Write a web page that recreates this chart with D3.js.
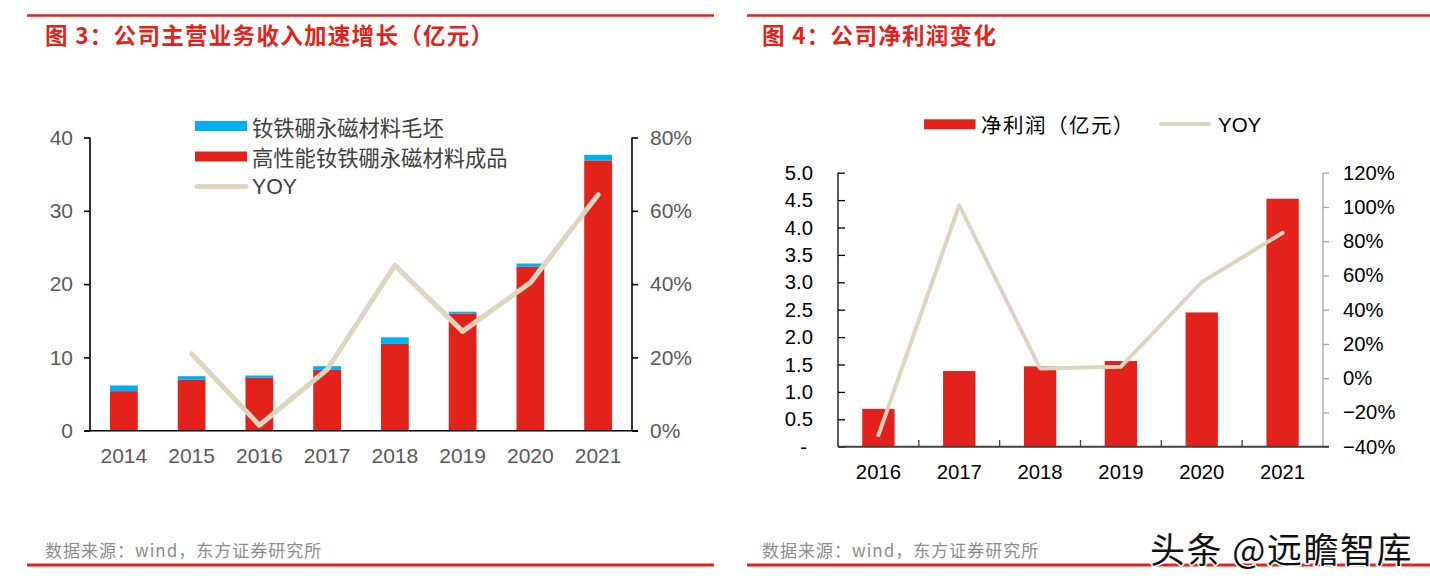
<!DOCTYPE html>
<html><head><meta charset="utf-8">
<script src="https://cdn.jsdelivr.net/npm/d3@7"></script>
<style>
html,body{margin:0;padding:0;background:#fff;}
svg{display:block;}
</style></head>
<body>
<svg id="c" width="1430" height="583"></svg>
<script>
// ---------- data: chart 1 ----------
const years1 = ["2014","2015","2016","2017","2018","2019","2020","2021"];
const finished1 = [5.40, 6.94, 7.21, 8.30, 11.84, 16.00, 22.36, 36.87];   // 高性能钕铁硼永磁材料成品
const blank1    = [0.77, 0.50, 0.32, 0.50, 0.90, 0.24, 0.45, 0.77];      // 钕铁硼永磁材料毛坯
const yoy1      = [null, 0.210, 0.015, 0.167, 0.451, 0.271, 0.404, 0.644];
const yTicks1L  = [0, 10, 20, 30, 40];
const yTicks1R  = [0, 0.2, 0.4, 0.6, 0.8];
const legend1   = ["钕铁硼永磁材料毛坯", "高性能钕铁硼永磁材料成品", "YOY"];
const title1    = "图 3：公司主营业务收入加速增长（亿元）";

// ---------- data: chart 2 ----------
const years2  = ["2016","2017","2018","2019","2020","2021"];
const profit2 = [0.69, 1.38, 1.466, 1.563, 2.45, 4.525];
const yoy2    = [-0.332, 1.01, 0.057, 0.067, 0.561, 0.849];
const yTicks2L = [0, 0.5, 1.0, 1.5, 2.0, 2.5, 3.0, 3.5, 4.0, 4.5, 5.0];
const yTicks2R = [-0.4, -0.2, 0, 0.2, 0.4, 0.6, 0.8, 1.0, 1.2];
const legend2  = ["净利润（亿元）", "YOY"];
const title2   = "图 4：公司净利润变化";

const source = "数据来源：wind，东方证券研究所";
const watermark = "头条 @远瞻智库";

// ---------- styles ----------
const RED = "#e3231b", BLUE = "#00b0f0", BEIGE = "#ddd5c0";
const LAT = "'Liberation Sans', Arial, 'Noto Sans CJK SC', sans-serif";
const CJK = "'Noto Sans CJK SC', 'Liberation Sans', sans-serif";

const svg = d3.select("#c");

// frame lines + titles + footers
function frame(x0, x1, title, tx, sx) {
  svg.append("line").attr("x1", x0).attr("x2", x1).attr("y1", 15.5).attr("y2", 15.5)
     .attr("stroke", RED).attr("stroke-width", 2.5);
  svg.append("text").attr("x", tx).attr("y", 34).attr("dominant-baseline", "central")
     .attr("font-family", CJK).attr("font-weight", "bold").attr("font-size", 22.5)
     .attr("letter-spacing", 1.3).attr("fill", RED).text(title);
  svg.append("line").attr("x1", x0).attr("x2", x1).attr("y1", 565).attr("y2", 565)
     .attr("stroke", RED).attr("stroke-width", 3);
  svg.append("text").attr("x", sx).attr("y", 549).attr("dominant-baseline", "central")
     .attr("font-family", CJK).attr("font-size", 17).attr("letter-spacing", 1)
     .attr("fill", "#8c8c8c").text(source);
}
frame(27, 714, title1, 45, 45);
frame(747, 1430, title2, 762, 762);

// ======================= chart 1 =======================
{
  const g = svg.append("g");
  const x = d3.scaleBand().domain(years1).range([90, 632]).paddingInner(0.59).paddingOuter(0.295);
  const y = d3.scaleLinear().domain([0, 40]).range([430.7, 137.5]);
  const y2 = d3.scaleLinear().domain([0, 0.8]).range([430.7, 137.5]);

  const stackData = years1.map((yr, i) => ({year: yr, finished: finished1[i], blank: blank1[i]}));
  const series = d3.stack().keys(["finished", "blank"])(stackData);
  const colors = {finished: RED, blank: BLUE};
  series.forEach(s => {
    g.append("g").selectAll("rect").data(s).join("rect")
      .attr("x", d => x(d.data.year)).attr("width", x.bandwidth())
      .attr("y", d => y(d[1])).attr("height", d => y(d[0]) - y(d[1]))
      .attr("fill", colors[s.key]);
  });

  // axes
  const axL = g.append("g").attr("transform", "translate(90,0)")
    .call(d3.axisLeft(y).tickValues(yTicks1L).tickSize(6).tickPadding(11).tickFormat(d3.format("d")));
  const axR = g.append("g").attr("transform", "translate(632,0)")
    .call(d3.axisRight(y2).tickValues(yTicks1R).tickSize(6).tickPadding(12).tickFormat(d3.format(".0%")));
  const axB = g.append("g").attr("transform", "translate(0,430.7)")
    .call(d3.axisBottom(x).tickSize(0).tickPadding(17));
  [axL, axR, axB].forEach(a => {
    a.selectAll("path,line").attr("stroke", "#000").attr("stroke-width", 1.6);
    a.selectAll("text").attr("font-family", LAT).attr("font-size", 21).attr("fill", "#595959");
  });
  axL.select(".domain").attr("d", "M0,137.5V430.7");
  axR.select(".domain").attr("d", "M0,137.5V430.7");
  axB.select(".domain").attr("d", "M85,0H638");
  axB.selectAll("text").attr("dy", "0.71em");

  // YOY line
  const line = d3.line().defined(d => d.v !== null)
    .x(d => x(d.year) + x.bandwidth() / 2).y(d => y2(d.v));
  g.append("path").datum(years1.map((yr, i) => ({year: yr, v: yoy1[i]})))
    .attr("d", line).attr("fill", "none").attr("stroke", BEIGE)
    .attr("stroke-width", 5).attr("stroke-linejoin", "round").attr("stroke-linecap", "round");

  // legend
  const lg = g.append("g");
  lg.append("rect").attr("x", 195).attr("y", 121).attr("width", 52).attr("height", 10).attr("fill", BLUE);
  lg.append("rect").attr("x", 195).attr("y", 151.5).attr("width", 52).attr("height", 10).attr("fill", RED);
  lg.append("line").attr("x1", 197).attr("x2", 246).attr("y1", 186.5).attr("y2", 186.5)
    .attr("stroke", BEIGE).attr("stroke-width", 5).attr("stroke-linecap", "round");
  [126, 156.5, 186.5].forEach((yy, i) => {
    lg.append("text").attr("x", 252).attr("y", yy).attr("dominant-baseline", "central")
      .attr("font-family", i === 2 ? LAT : CJK).attr("font-size", 21.3).attr("fill", "#404040")
      .text(legend1[i]);
  });
}

// ======================= chart 2 =======================
{
  const g = svg.append("g");
  const x = d3.scaleBand().domain(years2).range([838, 1323]).paddingInner(0.6).paddingOuter(0.3);
  const y = d3.scaleLinear().domain([0, 5]).range([446.7, 172.7]);
  const y2 = d3.scaleLinear().domain([-0.4, 1.2]).range([446.7, 172.7]);

  g.append("g").selectAll("rect").data(years2).join("rect")
    .attr("x", d => x(d)).attr("width", x.bandwidth())
    .attr("y", (d, i) => y(profit2[i])).attr("height", (d, i) => y(0) - y(profit2[i]))
    .attr("fill", RED);

  const axL = g.append("g").attr("transform", "translate(838,0)")
    .call(d3.axisLeft(y).tickValues(yTicks2L).tickSizeInner(-7).tickSizeOuter(0).tickPadding(25)
      .tickFormat(d => d === 0 ? "-" : d3.format(".1f")(d)));
  axL.selectAll("path,line").attr("stroke", "#000").attr("stroke-width", 1.3);
  axL.select(".domain").attr("d", "M0,172.7V446.7");
  axL.selectAll(".tick").filter(d => d === 0).select("text").attr("dx", -6);

  const axR = g.append("g").attr("transform", "translate(1323,0)")
    .call(d3.axisRight(y2).tickValues(yTicks2R).tickSize(6).tickPadding(14).tickFormat(d3.format(".0%")));
  axR.selectAll("path,line").attr("stroke", "#a6a6a6").attr("stroke-width", 1.3);
  axR.select(".domain").attr("d", "M0,172.7V446.7");

  const axB = g.append("g").attr("transform", "translate(0,446.7)")
    .call(d3.axisBottom(x).tickSize(0).tickPadding(18));
  axB.select(".domain").attr("d", "M838,0H1329").attr("stroke", "#404040").attr("stroke-width", 2);
  axB.selectAll("text").attr("dy", "0.71em");
  // category separator ticks (inward)
  const step = x.step();
  g.append("g").selectAll("line").data(years2.slice(1)).join("line")
    .attr("x1", d => x(d) - step * x.paddingInner() / 2).attr("x2", d => x(d) - step * x.paddingInner() / 2)
    .attr("y1", 446.7).attr("y2", 440).attr("stroke", "#404040").attr("stroke-width", 1.3);

  [axL, axR, axB].forEach(a => a.selectAll("text")
    .attr("font-family", LAT).attr("font-size", 20.3).attr("fill", "#000"));

  const line = d3.line().x((d, i) => x(years2[i]) + x.bandwidth() / 2).y(d => y2(d));
  g.append("path").datum(yoy2).attr("d", line).attr("fill", "none")
    .attr("stroke", BEIGE).attr("stroke-width", 4)
    .attr("stroke-linejoin", "round").attr("stroke-linecap", "round");

  // legend
  g.append("rect").attr("x", 924).attr("y", 119.3).attr("width", 51.5).attr("height", 10).attr("fill", RED);
  g.append("text").attr("x", 981).attr("y", 124).attr("dominant-baseline", "central")
    .attr("font-family", CJK).attr("font-size", 20.5).attr("letter-spacing", 1.5)
    .attr("fill", "#000").text(legend2[0]);
  g.append("line").attr("x1", 1161).attr("x2", 1209).attr("y1", 124).attr("y2", 124)
    .attr("stroke", BEIGE).attr("stroke-width", 4).attr("stroke-linecap", "round");
  g.append("text").attr("x", 1218).attr("y", 124).attr("dominant-baseline", "central")
    .attr("font-family", LAT).attr("font-size", 20.5).attr("fill", "#000").text(legend2[1]);
}

// watermark
svg.append("text").attr("x", 1150).attr("y", 547).attr("dominant-baseline", "central")
  .attr("font-family", CJK).attr("font-size", 35).attr("letter-spacing", 1.5).attr("fill", "#111")
  .attr("stroke", "#fff").attr("stroke-width", 3).attr("paint-order", "stroke")
  .text(watermark);
</script>
</body></html>
